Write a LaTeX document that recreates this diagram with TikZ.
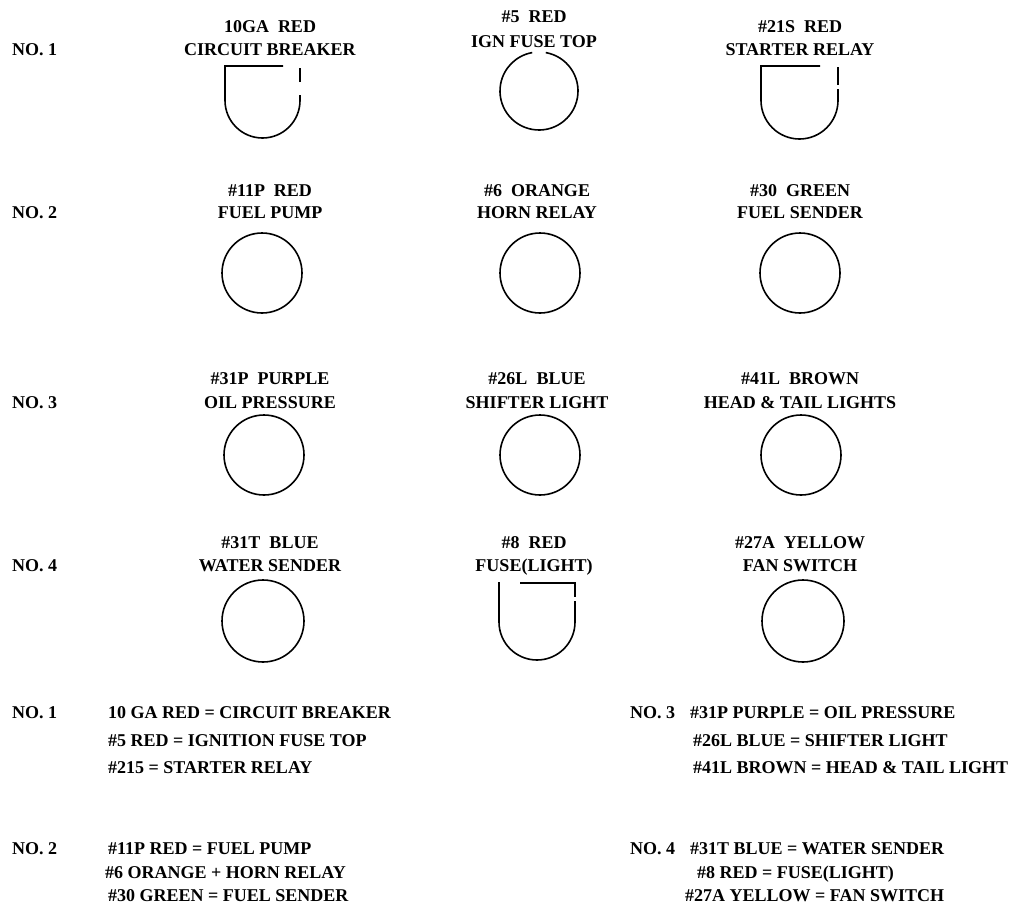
\documentclass[tikz,border=0pt]{standalone}
\usepackage{fontspec}
\setmainfont{Liberation Serif}
\begin{document}
\begin{tikzpicture}[x=1pt,y=-1pt,
  lbl/.style={anchor=base,inner sep=0pt,font=\fontsize{18}{20}\selectfont\bfseries},
  lw/.style={anchor=base west,inner sep=0pt,font=\fontsize{18}{20}\selectfont\bfseries},
  socket/.style={line width=1.6pt,black}]
\useasboundingbox (0,0) rectangle (1014,907);
% row labels
\node[lw] (n1) at (12,56) {NO. 1};
\node[lw] (n2) at (12,218) {NO. 2};
\node[lw] (n3) at (12,408) {NO. 3};
\node[lw] (n4) at (12,571) {NO. 4};
% row 1 titles
\node[lbl] (a1) at (270,33) {10GA\hspace{.5em}RED};
\node[lbl] (a2) at (270,56) {CIRCUIT BREAKER};
\node[lbl] (b1) at (534,23) {\#5\hspace{.5em}RED};
\node[lbl] (b2) at (534,48) {IGN FUSE TOP};
\node[lbl] (c1) at (800,33) {\#21S\hspace{.5em}RED};
\node[lbl] (c2) at (800,56) {STARTER RELAY};
% row 2 titles
\node[lbl] (d1) at (270,196) {\#11P\hspace{.5em}RED};
\node[lbl] (d2) at (270,218) {FUEL PUMP};
\node[lbl] (e1) at (537,196) {\#6\hspace{.5em}ORANGE};
\node[lbl] (e2) at (537,218) {HORN RELAY};
\node[lbl] (f1) at (800,196) {\#30\hspace{.5em}GREEN};
\node[lbl] (f2) at (800,218) {FUEL SENDER};
% row 3 titles
\node[lbl] (g1) at (270,384) {\#31P\hspace{.5em}PURPLE};
\node[lbl] (g2) at (270,408) {OIL PRESSURE};
\node[lbl] (h1) at (537,384) {\#26L\hspace{.5em}BLUE};
\node[lbl] (h2) at (537,408) {SHIFTER LIGHT};
\node[lbl] (i1) at (800,384) {\#41L\hspace{.5em}BROWN};
\node[lbl] (i2) at (800,408) {HEAD \& TAIL LIGHTS};
% row 4 titles
\node[lbl] (j1) at (270,548) {\#31T\hspace{.5em}BLUE};
\node[lbl] (j2) at (270,571) {WATER SENDER};
\node[lbl] (k1) at (534,548) {\#8\hspace{.5em}RED};
\node[lbl] (k2) at (534,571) {FUSE(LIGHT)};
\node[lbl] (l1) at (800,548) {\#27A\hspace{.5em}YELLOW};
\node[lbl] (l2) at (800,571) {FAN SWITCH};
% row 1 shapes
\draw[socket] (283,66) -- (225,66) -- (225,100.5) arc[start angle=180,end angle=0,radius=37.5] -- (300,95);
\draw[socket] (300,82) -- (300,68);
\draw[socket] (539,91) ++(-80:39) arc[start angle=-80,end angle=260,radius=39];
\draw[socket] (820,66) -- (761,66) -- (761,100.5) arc[start angle=180,end angle=0,radius=38.5] -- (838,89);
\draw[socket] (838,85) -- (838,67);
% row 2 shapes
\draw[socket] (262,273) circle[radius=40];
\draw[socket] (540,273) circle[radius=40];
\draw[socket] (800,273) circle[radius=40];
% row 3 shapes
\draw[socket] (264,455) circle[radius=40];
\draw[socket] (540,455) circle[radius=40];
\draw[socket] (801,455) circle[radius=40];
% row 4 shapes
\draw[socket] (263,621) circle[radius=41];
\draw[socket] (520,583) -- (575,583) -- (575,597);
\draw[socket] (575,601) -- (575,622) arc[start angle=0,end angle=180,radius=38] -- (499,582);
\draw[socket] (803,621) circle[radius=41];
% legend left
\node[lw] (m1) at (12,718) {NO. 1};
\node[lw] (m1a) at (108,718) {10 GA RED = CIRCUIT BREAKER};
\node[lw] (m1b) at (108,746) {\#5 RED = IGNITION FUSE TOP};
\node[lw] (m1c) at (108,773) {\#215 = STARTER RELAY};
\node[lw] (m2) at (12,854) {NO. 2};
\node[lw] (m2a) at (108,854) {\#11P RED = FUEL PUMP};
\node[lw] (m2b) at (105,878) {\#6 ORANGE + HORN RELAY};
\node[lw] (m2c) at (108,901) {\#30 GREEN = FUEL SENDER};
% legend right
\node[lw] (m3) at (630,718) {NO. 3};
\node[lw] (m3a) at (690,718) {\#31P PURPLE = OIL PRESSURE};
\node[lw] (m3b) at (693,746) {\#26L BLUE = SHIFTER LIGHT};
\node[lw] (m3c) at (693,773) {\#41L BROWN = HEAD \& TAIL LIGHT};
\node[lw] (m4) at (630,854) {NO. 4};
\node[lw] (m4a) at (690,854) {\#31T BLUE = WATER SENDER};
\node[lw] (m4b) at (697,878) {\#8 RED = FUSE(LIGHT)};
\node[lw] (m4c) at (685,901) {\#27A YELLOW = FAN SWITCH};
\end{tikzpicture}
\end{document}
